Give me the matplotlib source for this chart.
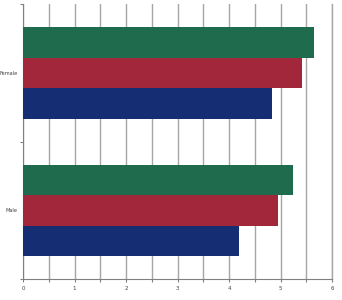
import matplotlib
matplotlib.use("Agg")
import matplotlib.pyplot as plt
import numpy as np
from matplotlib.ticker import MultipleLocator, FixedLocator

categories = ["Male", "Female"]
series_blue = [4.19, 4.83]
series_red = [4.96, 5.42]
series_green = [5.25, 5.66]
xticks = [0, 1, 2, 3, 4, 5, 6]

colors = ["#152d72", "#a2273b", "#1e6b4e"]

fig = plt.figure(figsize=(3.42, 3.0), dpi=100)
ax = fig.add_axes([23/342, 1 - 279.3/300, (332-23)/342, (279.3-4)/300])

y = np.arange(len(categories))
w = 0.222
for i, (vals, c) in enumerate(zip([series_blue, series_red, series_green], colors)):
    ax.barh(y + (i - 1) * w, vals, height=w, color=c, zorder=3)

ax.set_xlim(0, 6)
ax.set_ylim(-0.5, 1.5)
ax.xaxis.set_major_locator(FixedLocator(xticks))
ax.xaxis.set_minor_locator(MultipleLocator(0.5))
ax.set_xticklabels([str(t) for t in xticks], fontsize=4, color="#404040")
ax.grid(axis="x", which="both", color="#a6a6a6", linewidth=1.0, zorder=0)
ax.set_yticks(y)
ax.set_yticklabels(categories, fontsize=3.6, color="#404040")
ax.yaxis.set_minor_locator(FixedLocator([-0.5, 0.5, 1.5]))
ax.tick_params(axis="y", which="major", length=0, pad=4)
ax.tick_params(axis="y", which="minor", length=2, color="#808080", width=0.8)
ax.tick_params(axis="x", which="both", length=2, color="#808080", width=0.8, pad=3)
ax.spines["top"].set_visible(False)
ax.spines["right"].set_color("#a6a6a6")
ax.spines["right"].set_linewidth(1.0)
for s in ["left", "bottom"]:
    ax.spines[s].set_color("#808080")
    ax.spines[s].set_linewidth(0.8)

fig.savefig("out.png", dpi=100)
